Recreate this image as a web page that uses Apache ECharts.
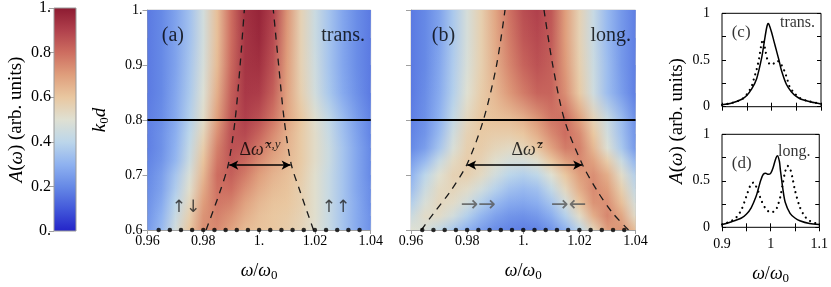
<!DOCTYPE html>
<html><head><meta charset="utf-8">
<script src="https://cdn.jsdelivr.net/npm/echarts@6/dist/echarts.min.js"></script>
<style>html,body{margin:0;padding:0;background:#fff}#c{width:831px;height:287px}</style>
</head><body><div id="c"></div>
<script>
// ================= DATA =================
const omegaCols = [0.96,0.965,0.97,0.975,0.98,0.985,0.99,0.995,1.0,1.005,1.01,1.015,1.02,1.025,1.03,1.035,1.04];
const k0dRows = [0.6,0.625,0.65,0.675,0.7,0.725,0.75,0.775,0.8,0.85,0.9,0.95,1.0];

// panel (a) "trans." spectral map, one row per k0dRows entry (ascending k0d)
const transMap = [
 [0.24,0.32,0.46,0.60,0.73,0.74,0.69,0.63,0.61,0.60,0.58,0.55,0.50,0.43,0.35,0.28,0.22],
 [0.23,0.30,0.43,0.57,0.72,0.76,0.72,0.66,0.62,0.60,0.59,0.56,0.51,0.43,0.35,0.28,0.22],
 [0.22,0.28,0.40,0.54,0.70,0.78,0.76,0.69,0.64,0.61,0.60,0.57,0.51,0.43,0.35,0.28,0.21],
 [0.21,0.26,0.37,0.51,0.67,0.79,0.80,0.73,0.67,0.63,0.61,0.57,0.51,0.43,0.35,0.27,0.21],
 [0.20,0.25,0.35,0.48,0.64,0.80,0.83,0.77,0.70,0.65,0.62,0.58,0.51,0.43,0.35,0.27,0.20],
 [0.19,0.23,0.31,0.44,0.61,0.78,0.85,0.81,0.74,0.68,0.64,0.59,0.52,0.44,0.35,0.27,0.20],
 [0.18,0.22,0.30,0.42,0.58,0.76,0.86,0.85,0.78,0.71,0.65,0.59,0.52,0.44,0.35,0.27,0.20],
 [0.18,0.22,0.29,0.40,0.55,0.73,0.86,0.88,0.82,0.74,0.66,0.59,0.52,0.43,0.34,0.26,0.19],
 [0.18,0.21,0.28,0.38,0.52,0.70,0.85,0.90,0.86,0.78,0.68,0.60,0.51,0.42,0.33,0.25,0.19],
 [0.17,0.20,0.27,0.36,0.49,0.66,0.83,0.92,0.91,0.83,0.69,0.57,0.46,0.36,0.28,0.22,0.17],
 [0.17,0.20,0.26,0.35,0.47,0.63,0.81,0.93,0.94,0.86,0.70,0.56,0.45,0.35,0.27,0.21,0.17],
 [0.17,0.20,0.26,0.34,0.46,0.62,0.80,0.93,0.96,0.88,0.71,0.56,0.44,0.35,0.27,0.21,0.17],
 [0.17,0.20,0.26,0.34,0.46,0.62,0.80,0.94,0.97,0.90,0.72,0.56,0.44,0.35,0.27,0.21,0.17]
];
// panel (b) "long." spectral map
const longMap = [
 [0.50,0.48,0.42,0.36,0.30,0.25,0.21,0.19,0.18,0.19,0.23,0.30,0.40,0.55,0.70,0.72,0.62],
 [0.44,0.52,0.52,0.46,0.38,0.31,0.26,0.23,0.22,0.24,0.29,0.38,0.52,0.66,0.75,0.68,0.52],
 [0.38,0.48,0.54,0.52,0.46,0.38,0.32,0.28,0.27,0.29,0.35,0.46,0.60,0.72,0.73,0.62,0.47],
 [0.33,0.44,0.53,0.55,0.52,0.46,0.39,0.34,0.32,0.34,0.42,0.54,0.66,0.74,0.70,0.57,0.42],
 [0.30,0.40,0.50,0.56,0.57,0.53,0.46,0.40,0.38,0.41,0.50,0.60,0.70,0.73,0.66,0.52,0.38],
 [0.25,0.32,0.43,0.53,0.58,0.56,0.51,0.47,0.47,0.51,0.60,0.69,0.74,0.69,0.58,0.44,0.31],
 [0.20,0.25,0.35,0.48,0.57,0.58,0.55,0.53,0.55,0.60,0.69,0.77,0.76,0.64,0.49,0.36,0.24],
 [0.19,0.23,0.32,0.45,0.56,0.59,0.58,0.58,0.60,0.66,0.74,0.80,0.74,0.60,0.46,0.34,0.23],
 [0.18,0.22,0.30,0.42,0.54,0.60,0.61,0.62,0.65,0.71,0.78,0.80,0.70,0.56,0.44,0.33,0.22],
 [0.17,0.21,0.28,0.38,0.50,0.58,0.64,0.71,0.77,0.82,0.82,0.73,0.59,0.45,0.33,0.25,0.18],
 [0.17,0.20,0.27,0.37,0.48,0.57,0.66,0.75,0.82,0.86,0.83,0.71,0.57,0.44,0.33,0.24,0.18],
 [0.17,0.20,0.26,0.36,0.47,0.57,0.67,0.77,0.85,0.88,0.84,0.70,0.56,0.43,0.32,0.24,0.18],
 [0.17,0.20,0.26,0.36,0.47,0.57,0.68,0.79,0.87,0.90,0.85,0.70,0.56,0.43,0.32,0.24,0.18]
];

// dashed guide curves  [omega, k0d]
const transDashLeft  = [[0.981,0.6],[0.986,0.67],[0.989,0.72],[0.9914,0.8],[0.9932,0.9],[0.9947,1.0]];
const transDashRight = [[1.0195,0.6],[1.0147,0.67],[1.0115,0.72],[1.009,0.8],[1.007,0.9],[1.0051,1.0]];
const longDashLeft   = [[0.9637,0.6],[0.968,0.63],[0.974,0.67],[0.980,0.72],[0.9858,0.8],[0.9905,0.9],[0.9935,1.0]];
const longDashRight  = [[1.0375,0.6],[1.032,0.63],[1.0265,0.67],[1.021,0.72],[1.0147,0.8],[1.0105,0.9],[1.0074,1.0]];

// horizontal cut (solid) and the dotted cut at the bottom
const cutSolidK = 0.8;
const cutDotsOmega = [0.964,0.968,0.972,0.976,0.98,0.984,0.988,0.992,0.996,1.0,1.004,1.008,1.012,1.016,1.02,1.024,1.028,1.032,1.036];
const cutDotsK = 0.6;

// splitting arrows [omegaStart, omegaEnd, k0d]
const transSplit = [0.9893, 1.0113, 0.718];
const longSplit  = [0.980, 1.021, 0.718];

// panel (c) trans. spectra [omega, A]
const transSolid = [[0.90,0.02],[0.92,0.04],[0.94,0.08],[0.95,0.12],[0.96,0.19],[0.97,0.30],[0.98,0.52],[0.985,0.68],[0.99,0.84],[0.993,0.89],[0.995,0.88],[1.0,0.80],[1.005,0.70],[1.01,0.60],[1.015,0.50],[1.02,0.39],[1.03,0.24],[1.04,0.16],[1.05,0.11],[1.06,0.08],[1.08,0.05],[1.10,0.03]];
const transDotted = [[0.90,0.02],[0.92,0.04],[0.94,0.08],[0.95,0.13],[0.96,0.22],[0.965,0.31],[0.97,0.40],[0.975,0.52],[0.98,0.68],[0.983,0.72],[0.987,0.62],[0.992,0.50],[0.998,0.45],[1.004,0.46],[1.01,0.49],[1.016,0.48],[1.022,0.43],[1.027,0.37],[1.032,0.29],[1.037,0.21],[1.047,0.14],[1.058,0.09],[1.074,0.06],[1.10,0.03]];
// panel (d) long. spectra
const longSolid = [[0.90,0.03],[0.92,0.06],[0.94,0.10],[0.95,0.14],[0.96,0.21],[0.97,0.33],[0.975,0.42],[0.98,0.51],[0.985,0.57],[0.99,0.58],[0.995,0.57],[1.0,0.58],[1.005,0.64],[1.01,0.73],[1.014,0.77],[1.018,0.71],[1.02,0.62],[1.025,0.42],[1.03,0.27],[1.04,0.15],[1.05,0.10],[1.06,0.07],[1.08,0.04],[1.10,0.03]];
const longDotted = [[0.90,0.03],[0.92,0.07],[0.93,0.11],[0.94,0.19],[0.95,0.33],[0.96,0.47],[0.965,0.48],[0.97,0.44],[0.975,0.38],[0.98,0.30],[0.99,0.20],[1.0,0.16],[1.01,0.18],[1.015,0.24],[1.02,0.33],[1.025,0.47],[1.03,0.60],[1.035,0.66],[1.04,0.63],[1.045,0.53],[1.05,0.40],[1.06,0.22],[1.07,0.12],[1.08,0.07],[1.10,0.03]];

// tick labels
const mapXTicks = ['0.96','0.98','1.','1.02','1.04'];
const mapYTicks = ['0.6','0.7','0.8','0.9','1.'];
const barTicks  = ['0.','0.2','0.4','0.6','0.8','1.'];
const specXTicks = ['0.9','','1','','1.1'];
const specYTicks = ['0','','0.5','','1'];

// ================= STYLE / RENDERING =================
const FONT = '"Liberation Serif", "Times New Roman", serif';
const ARROWFONT = '"DejaVu Sans", sans-serif';
const CMAP = [[0,'#2323c8'],[0.1,'#4258da'],[0.2,'#6689e6'],[0.3,'#8fb2f0'],[0.4,'#bcd6ea'],[0.5,'#dfe0d2'],[0.6,'#e9c7a0'],[0.7,'#df9e7c'],[0.8,'#cd6d60'],[0.9,'#b0404c'],[1,'#8c1a31']];
function hexToRgb(h){return [parseInt(h.slice(1,3),16),parseInt(h.slice(3,5),16),parseInt(h.slice(5,7),16)];}
function cmap(v){
  v=Math.max(0,Math.min(1,v));
  for(let i=1;i<CMAP.length;i++){
    if(v<=CMAP[i][0]){
      const a=CMAP[i-1][0], b=CMAP[i][0], t=(v-a)/(b-a);
      const A=hexToRgb(CMAP[i-1][1]), B=hexToRgb(CMAP[i][1]);
      return 'rgb('+A.map((x,j)=>Math.round(x+(B[j]-x)*t)).join(',')+')';
    }
  }
  return CMAP[CMAP.length-1][1];
}
const w0 = omegaCols[0], w1 = omegaCols[omegaCols.length-1];
function rowGrad(vals, x0, x1){
  return new echarts.graphic.LinearGradient(x0,0,x1,0, vals.map((v,i)=>({offset:(omegaCols[i]-w0)/(w1-w0), color:cmap(v)})), true);
}
function heatRender(map){
  return function(params, api){
    const i = api.value(0);
    const pA = api.coord([w0, k0dRows[i]]);
    const pB = api.coord([w1, k0dRows[i+1]]);
    const x = pA[0], w = pB[0]-pA[0];
    const yb = Math.round(pA[1]), yt = Math.round(pB[1]);
    const gL = rowGrad(map[i], pA[0], pB[0]), gH = rowGrad(map[i+1], pA[0], pB[0]);
    const ch = [];
    for(let y=yt; y<yb; y++){
      const t = (yb-(y+0.5))/(yb-yt);
      ch.push({type:'rect', shape:{x:x, y:y, width:w, height:1}, style:{fill:gL}});
      ch.push({type:'rect', shape:{x:x, y:y, width:w, height:1}, style:{fill:gH, opacity:t}});
    }
    return {type:'group', children:ch};
  };
}
function barRender(params, api){
  const p0 = api.coord([0,0]), p1 = api.coord([1,1]);
  return {type:'rect', shape:{x:p0[0], y:p1[1], width:p1[0]-p0[0], height:p0[1]-p1[1]},
    style:{fill:new echarts.graphic.LinearGradient(0,1,0,0, CMAP.map(s=>({offset:s[0], color:s[1]}))), stroke:'#9a9a9a', lineWidth:1}};
}
function rich(size){
  return {
    t:{fontFamily:FONT,fontSize:size,color:'#000'},
    n:{fontFamily:FONT,fontSize:size,color:'#000'},
    i:{fontFamily:FONT,fontSize:size,fontStyle:'italic',color:'#000'},
    sub:{fontFamily:FONT,fontSize:Math.round(size*0.7),color:'#000',padding:[Math.round(size*0.5),0,0,0]},
    sup:{fontFamily:FONT,fontSize:Math.round(size*0.72),fontStyle:'italic',color:'#000',padding:[0,0,Math.round(size*0.6),2]},
    ar:{fontFamily:ARROWFONT,fontSize:size,color:'#222'}
  };
}
function lab(arr, idx){ const s = arr[idx]; return s ? '{t|'+s+'}' : ''; }
const omegaName = '{i|ω}{n|/}{i|ω}{sub|0}';
const kName = '{i|k}{sub|0}{i|d}';
const ampName = '{i|A}{n|(}{i|ω}{n|) (arb. units)}';

function mapX(idx){
  return {gridIndex:idx, type:'value', min:0.96, max:1.04, interval:0.02,
    axisLine:{show:true, lineStyle:{color:'#a0a0a0', width:1}},
    axisTick:{show:true, inside:false, length:4, lineStyle:{color:'#a0a0a0'}},
    splitLine:{show:false},
    axisLabel:{fontFamily:FONT, fontSize:14, color:'#000', margin:4, rich:rich(14), formatter:v=>lab(mapXTicks, Math.round((v-0.96)/0.02))},
    name:omegaName, nameLocation:'middle', nameGap:30, nameTextStyle:{fontFamily:FONT, fontSize:18, color:'#000', rich:rich(18)}};
}
function mapY(idx, labels){
  return {gridIndex:idx, type:'value', min:0.6, max:1.0, interval:0.1,
    axisLine:{show:true, lineStyle:{color:'#a0a0a0', width:1}},
    axisTick:{show:true, inside:false, length:5, lineStyle:{color:'#a0a0a0'}},
    splitLine:{show:false},
    axisLabel:{show:labels, fontFamily:FONT, fontSize:14, color:'#000', margin:5, rich:rich(14), formatter:v=>lab(mapYTicks, Math.round((v-0.6)/0.1))},
    name: labels ? kName : '', nameLocation:'middle', nameGap:36, nameTextStyle:{fontFamily:FONT, fontSize:19, color:'#000', rich:rich(19)}};
}
function specX(idx, pos, labels){
  return {gridIndex:idx, type:'value', min:0.9, max:1.1, interval:0.05, position:pos,
    axisLine:{show:false}, splitLine:{show:false},
    axisTick:{show:true, inside:true, length:4, lineStyle:{color:'#000'}},
    axisLabel:{show:labels, fontFamily:FONT, fontSize:14, color:'#000', margin:10, rich:rich(14), formatter:v=>lab(specXTicks, Math.round((v-0.9)/0.05))},
    name: labels ? omegaName : '', nameLocation:'middle', nameGap:36, nameTextStyle:{fontFamily:FONT, fontSize:18, color:'#000', rich:rich(18)}};
}
function specY(idx, pos, labels){
  return {gridIndex:idx, type:'value', min:0, max:1, interval:0.25, position:pos,
    axisLine:{show:false}, splitLine:{show:false},
    axisTick:{show:true, inside:true, length:4, lineStyle:{color:'#000'}},
    axisLabel:{show:labels, fontFamily:FONT, fontSize:14, color:'#000', margin:12, rich:rich(14), formatter:v=>lab(specYTicks, Math.round(v/0.25))}};
}
function textSeries(xi, yi, items){
  return {type:'scatter', xAxisIndex:xi, yAxisIndex:yi, symbolSize:1, itemStyle:{color:'rgba(0,0,0,0)'}, silent:true, z:20, clip:false,
    data: items.map(it=>({value:[it.p[0], it.p[1]], label:{show:true, position:'inside', formatter:it.t, align:it.a||'center', verticalAlign:'middle',
      fontFamily:FONT, fontSize:it.s||18, color:it.c||'#000', rich: Object.assign(rich(it.s||18), it.c ? {ar:{fontFamily:ARROWFONT,fontSize:it.s,color:it.c}} : {})}}))};
}
function dashSeries(xi, yi, d){
  return {type:'line', xAxisIndex:xi, yAxisIndex:yi, data:d, smooth:0.3, symbol:'none', silent:true, z:5,
    lineStyle:{color:'#1a1a1a', width:1.3, type:[7,6]}};
}
function splitArrow(xi, yi, s){
  return {type:'line', xAxisIndex:xi, yAxisIndex:yi, data:[], silent:true, z:6,
    markLine:{silent:true, symbol:['arrow','arrow'], symbolSize:[7,9], label:{show:false}, animation:false,
      lineStyle:{color:'#000', width:1.5, type:'solid'},
      data:[[{coord:[s[0], s[2]]},{coord:[s[1], s[2]]}]]}};
}

const chart = echarts.init(document.getElementById('c'));
const rowIdx = k0dRows.slice(0,-1).map((k,i)=>[i]);
const option = {
  animation:false,
  backgroundColor:'#fff',
  textStyle:{fontFamily:FONT},
  grid:[
    {left:54, top:8, width:22, height:223},
    {left:147.5, top:10, width:223.2, height:222, show:true, borderColor:'#c8c8c8', borderWidth:1},
    {left:411, top:10, width:224.5, height:222, show:true, borderColor:'#c8c8c8', borderWidth:1},
    {left:722, top:13.3, width:99, height:93.4, show:true, borderColor:'#000', borderWidth:1},
    {left:722, top:134.3, width:99, height:93, show:true, borderColor:'#000', borderWidth:1}
  ],
  xAxis:[
    {gridIndex:0, type:'value', min:0, max:1, show:false},
    mapX(1), mapX(2),
    specX(3,'bottom',false), specX(3,'top',false),
    specX(4,'bottom',true), specX(4,'top',false)
  ],
  yAxis:[
    {gridIndex:0, type:'value', min:0, max:1, interval:0.2,
      axisLine:{show:false}, splitLine:{show:false},
      axisTick:{show:true, length:5, lineStyle:{color:'#a0a0a0'}},
      axisLabel:{fontFamily:FONT, fontSize:16, color:'#000', margin:3, rich:rich(16), formatter:v=>lab(barTicks, Math.round(v/0.2))},
      name:ampName, nameLocation:'middle', nameGap:28, nameTextStyle:{fontFamily:FONT, fontSize:19, color:'#000', rich:rich(19)}},
    mapY(1,true), mapY(2,false),
    specY(3,'left',true), specY(3,'right',false),
    specY(4,'left',true), specY(4,'right',false)
  ],
  graphic:[
    {type:'text', x:677, y:121, rotation:Math.PI/2, silent:true,
      style:{text:ampName, rich:rich(19), align:'center', verticalAlign:'middle', fontFamily:FONT, fontSize:19, fill:'#000'}}
  ],
  series:[
    {type:'custom', xAxisIndex:0, yAxisIndex:0, data:[[0]], renderItem:barRender, silent:true},
    {type:'custom', xAxisIndex:1, yAxisIndex:1, data:rowIdx, renderItem:heatRender(transMap), silent:true, clip:true, z:1},
    {type:'custom', xAxisIndex:2, yAxisIndex:2, data:rowIdx, renderItem:heatRender(longMap), silent:true, clip:true, z:1},
    dashSeries(1,1,transDashLeft), dashSeries(1,1,transDashRight),
    dashSeries(2,2,longDashLeft), dashSeries(2,2,longDashRight),
    {type:'line', xAxisIndex:1, yAxisIndex:1, data:[[w0,cutSolidK],[w1,cutSolidK]], symbol:'none', silent:true, z:6, lineStyle:{color:'#000', width:2}},
    {type:'line', xAxisIndex:2, yAxisIndex:2, data:[[w0,cutSolidK],[w1,cutSolidK]], symbol:'none', silent:true, z:6, lineStyle:{color:'#000', width:2}},
    {type:'scatter', xAxisIndex:1, yAxisIndex:1, data:cutDotsOmega.map(w=>[w,cutDotsK]), symbolSize:4.5, clip:false, silent:true, z:7, itemStyle:{color:'#000'}},
    {type:'scatter', xAxisIndex:2, yAxisIndex:2, data:cutDotsOmega.map(w=>[w,cutDotsK]), symbolSize:4.5, clip:false, silent:true, z:7, itemStyle:{color:'#000'}},
    splitArrow(1,1,transSplit), splitArrow(2,2,longSplit),
    textSeries(1,1,[
      {p:[0.9651,0.953], t:'(a)', a:'left', s:20},
      {p:[1.038,0.953], t:'trans.', a:'right', s:20},
      {p:[1.0003,0.745], t:'{n|Δ}{i|ω\u0303}{sup|x,y}', s:18},
      {p:[0.9738,0.64], t:'{ar|↑↓}', s:17, c:'#222'},
      {p:[1.0276,0.64], t:'{ar|↑↑}', s:17, c:'#222'}
    ]),
    textSeries(2,2,[
      {p:[0.9674,0.953], t:'(b)', a:'left', s:20},
      {p:[1.0384,0.953], t:'long.', a:'right', s:20},
      {p:[1.0014,0.745], t:'{n|Δ}{i|ω\u0303}{sup|z}', s:18},
      {p:[0.984,0.645], t:'{ar|→→}', s:21, c:'#555'},
      {p:[1.0162,0.645], t:'{ar|→←}', s:21, c:'#555'}
    ]),
    {type:'line', xAxisIndex:3, yAxisIndex:3, data:transSolid, smooth:0.3, symbol:'none', silent:true, lineStyle:{color:'#000', width:1.5}},
    {type:'line', xAxisIndex:3, yAxisIndex:3, data:transDotted, smooth:0.3, symbol:'none', silent:true, lineStyle:{color:'#000', width:2.2, type:[0.01,5.5], cap:'round'}},
    {type:'line', xAxisIndex:5, yAxisIndex:5, data:longSolid, smooth:0.3, symbol:'none', silent:true, lineStyle:{color:'#000', width:1.5}},
    {type:'line', xAxisIndex:5, yAxisIndex:5, data:longDotted, smooth:0.3, symbol:'none', silent:true, lineStyle:{color:'#000', width:2.2, type:[0.01,5.5], cap:'round'}},
    textSeries(3,3,[
      {p:[0.9196,0.79], t:'(c)', a:'left', s:17},
      {p:[1.088,0.90], t:'trans.', a:'right', s:16}
    ]),
    textSeries(5,5,[
      {p:[0.9202,0.69], t:'(d)', a:'left', s:17},
      {p:[1.082,0.81], t:'long.', a:'right', s:16}
    ])
  ]
};
chart.setOption(option);
</script>
</body></html>
